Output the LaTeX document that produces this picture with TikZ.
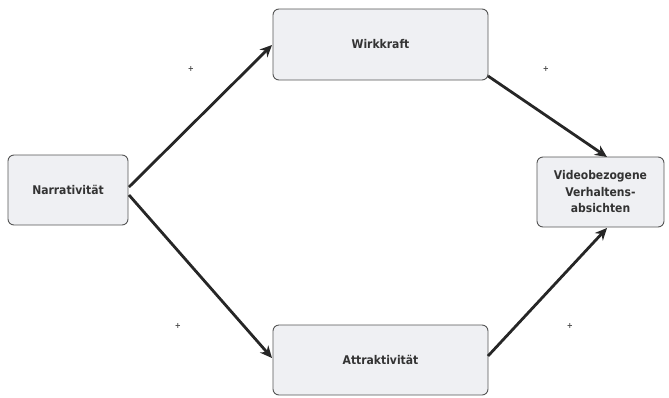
\documentclass[tikz,border=0pt]{standalone}
\usepackage{fontspec}
\setmainfont{DejaVu Sans Condensed}
\usetikzlibrary{arrows.meta}
\definecolor{boxfill}{HTML}{EFF0F3}
\definecolor{boxline}{HTML}{555555}
\tikzset{
  box/.style={draw=boxline, line width=0.9pt, fill=boxfill, rounded corners=6pt, inner sep=0pt, font=\bfseries\fontsize{12}{16.5}\selectfont, text=black!80, align=center},
  conn/.style={line width=2.8pt, draw=black!85, -{Stealth[length=12pt,width=11pt]}},
  sign/.style={font=\bfseries\fontsize{8}{8}\selectfont, text=black!70}
}
\begin{document}
\begin{tikzpicture}[x=1pt,y=-1pt]
\useasboundingbox (0,0) rectangle (669,397);
\node[box, minimum width=120pt, minimum height=70pt] (n) at (68,190) {Narrativität};
\node[box, minimum width=215pt, minimum height=71pt] (w) at (380.5,44.5) {Wirkkraft};
\node[box, minimum width=215pt, minimum height=70pt] (a) at (380.5,360) {Attraktivität};
\node[box, minimum width=127pt, minimum height=70pt] (v) at (600.5,192) {Videobezogene\\Verhaltens-\\absichten};
\coordinate (n1) at (129,187);
\coordinate (n2) at (129,195);
\coordinate (w1) at (272,45);
\coordinate (w2) at (488,76);
\coordinate (a1) at (272,358);
\coordinate (a2) at (488,356);
\coordinate (v1) at (607,157);
\coordinate (v2) at (607,228);
\draw[conn] (n1) -- (w1);
\draw[conn] (n2) -- (a1);
\draw[conn] (w2) -- (v1);
\draw[conn] (a2) -- (v2);
\node[sign] (s1) at (191,69) {+};
\node[sign] (s2) at (546,69) {+};
\node[sign] (s3) at (178,326) {+};
\node[sign] (s4) at (570,326) {+};
\end{tikzpicture}
\end{document}
